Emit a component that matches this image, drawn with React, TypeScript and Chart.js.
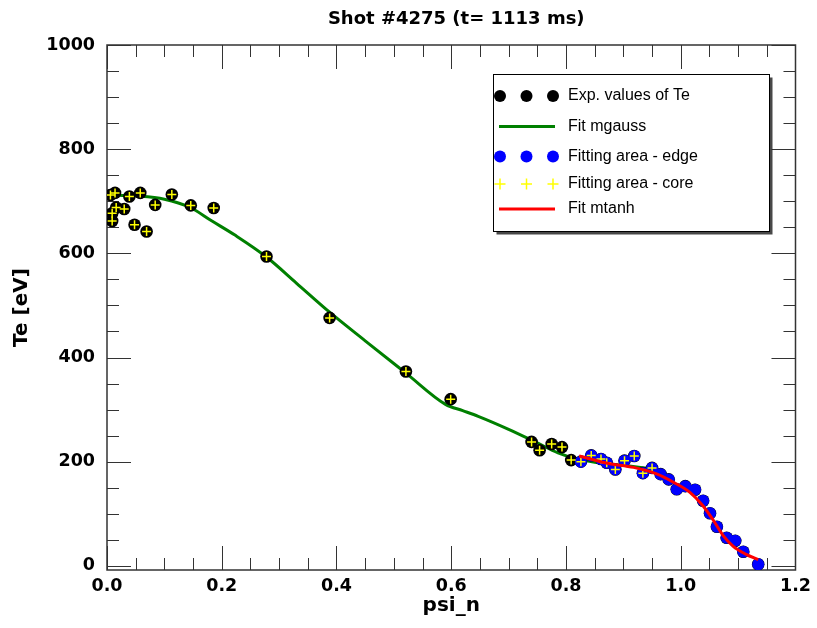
import React, { useEffect, useRef } from 'react';
import { Chart, registerables } from 'chart.js';

Chart.register(...registerables);

// ---- data ----
const titleText = 'Shot #4275 (t= 1113 ms)';
const xTitle = 'psi_n';
const yTitle = 'Te [eV]';
const legendLabels = ['Exp. values of Te', 'Fit mgauss', 'Fitting area - edge', 'Fitting area - core', 'Fit mtanh'];

const expPsi = [0.006, 0.009, 0.009, 0.014, 0.016, 0.030, 0.039, 0.048, 0.058, 0.069, 0.084, 0.113, 0.146, 0.186,
  0.278, 0.388, 0.521, 0.599, 0.740, 0.754, 0.775, 0.793, 0.809,
  0.826, 0.844, 0.861, 0.871, 0.886, 0.902, 0.919, 0.934, 0.950,
  0.965, 0.979, 0.993, 1.008, 1.025, 1.039, 1.051, 1.063, 1.080, 1.095, 1.109, 1.135];
const expTe = [712, 677, 662, 716, 688, 685, 709, 655, 716, 642, 693, 713, 692, 687,
  594, 476, 373, 320, 238, 222, 234, 228, 203,
  200, 212, 205, 198, 185, 202, 211, 178, 188,
  176, 166, 147, 153, 146, 125, 101, 75, 54, 48, 27, 3];

const edgeFrom = 0.82;   // fitting area - edge: psi >= edgeFrom
const coreTo = 0.955;    // fitting area - core: psi <= coreTo

const gaussPsi = [0, 0.05, 0.1, 0.145, 0.183, 0.223, 0.278, 0.33, 0.388, 0.45, 0.521, 0.59, 0.62, 0.647, 0.7, 0.75, 0.786, 0.82, 0.85, 0.9, 0.945];
const gaussTe = [712, 710, 704, 688, 662, 635, 593, 543, 487, 432, 370, 310, 298, 287, 262, 236, 217, 205, 199, 193, 187];

const tanhPsi = [0.823, 0.872, 0.918, 0.959, 0.988, 1.016, 1.039, 1.057, 1.074, 1.091, 1.114, 1.135];
const tanhTe = [211, 197, 189, 176, 160, 141, 115, 87, 58, 38, 22, 12];

const xTicks = [0, 0.2, 0.4, 0.6, 0.8, 1.0, 1.2];
const yTicks = [0, 200, 400, 600, 800, 1000];
const xMinorStep = 0.05;
const yMinorStep = 50;

// ---- helpers ----
const pts = (xs: number[], ys: number[]) => xs.map((x, i) => ({ x, y: ys[i] }));
const expPts = pts(expPsi, expTe);
const edgePts = expPts.filter(p => p.x >= edgeFrom);
const corePts = expPts.filter(p => p.x <= coreTo);

const GREEN = '#008000';
const RED = '#ff0000';
const BLUE = '#0000ff';
const YELLOW = '#ffff00';
const AXIS = '#333333';

const framePlugin = {
  id: 'idlFrame',
  beforeDatasetsDraw(chart: any) {
    const { ctx, chartArea: a, scales } = chart;
    const xs = scales.x, ys = scales.y;
    ctx.save();
    ctx.strokeStyle = AXIS;
    ctx.lineWidth = 1;
    const line = (x1: number, y1: number, x2: number, y2: number) => {
      ctx.beginPath(); ctx.moveTo(x1, y1); ctx.lineTo(x2, y2); ctx.stroke();
    };
    const xMax = xTicks[xTicks.length - 1];
    const nX = Math.round(xMax / xMinorStep);
    for (let i = 0; i <= nX; i++) {
      const v = i * xMinorStep;
      const px = Math.round(xs.getPixelForValue(v)) + 0.5;
      const major = xTicks.some(t => Math.abs(t - v) < 1e-6);
      const len = major ? 24 : 12;
      line(px, a.bottom, px, a.bottom - len);
      line(px, a.top, px, a.top + len);
    }
    const yMax = yTicks[yTicks.length - 1];
    for (let v = 0; v <= yMax; v += yMinorStep) {
      const py = Math.round(ys.getPixelForValue(v)) + 0.5;
      const major = yTicks.includes(v);
      const len = major ? 24 : 12;
      line(a.left, py, a.left + len, py);
      line(a.right, py, a.right - len, py);
    }
    ctx.lineWidth = 1.5;
    ctx.strokeRect(a.left, a.top, a.right - a.left, a.bottom - a.top);
    ctx.restore();
  },
  afterDraw(chart: any) {
    const { ctx, chartArea: a } = chart;
    ctx.save();
    // title
    ctx.fillStyle = '#000';
    ctx.font = 'bold 18px "DejaVu Sans"';
    ctx.textAlign = 'center';
    ctx.textBaseline = 'middle';
    ctx.fillText(titleText, (a.left + a.right) / 2 + 5, 19);

    // legend
    const bx = 493.5, by = 74.5, bw = 276, bh = 157;
    ctx.fillStyle = 'rgba(40,40,40,0.85)';
    ctx.fillRect(bx + 3, by + 3, bw, bh);
    ctx.fillStyle = '#fff';
    ctx.fillRect(bx, by, bw, bh);
    ctx.strokeStyle = '#000';
    ctx.lineWidth = 1;
    ctx.strokeRect(bx, by, bw, bh);

    const rows = [96, 126.5, 156.5, 184, 209];
    const sx = [500, 526.5, 553];
    const circle = (x: number, y: number, r: number, c: string) => {
      ctx.beginPath(); ctx.arc(x, y, r, 0, Math.PI * 2); ctx.fillStyle = c; ctx.fill();
    };
    sx.forEach(x => circle(x, rows[0], 6, '#000'));
    sx.forEach(x => circle(x, rows[2], 6, BLUE));
    ctx.strokeStyle = YELLOW; ctx.lineWidth = 1.5;
    sx.forEach(x => {
      ctx.beginPath();
      ctx.moveTo(x - 5.5, rows[3]); ctx.lineTo(x + 5.5, rows[3]);
      ctx.moveTo(x, rows[3] - 5.5); ctx.lineTo(x, rows[3] + 5.5);
      ctx.stroke();
    });
    ctx.lineWidth = 3;
    ctx.strokeStyle = GREEN;
    ctx.beginPath(); ctx.moveTo(499, rows[1]); ctx.lineTo(555, rows[1]); ctx.stroke();
    ctx.strokeStyle = RED;
    ctx.beginPath(); ctx.moveTo(499, rows[4]); ctx.lineTo(555, rows[4]); ctx.stroke();

    ctx.fillStyle = '#000';
    ctx.font = '16px "Liberation Sans"';
    ctx.textAlign = 'left';
    ctx.textBaseline = 'middle';
    legendLabels.forEach((t, i) => ctx.fillText(t, 568, rows[i]));
    ctx.restore();
  },
};

const tickFont = { family: '"DejaVu Sans"', weight: 'bold' as const, size: 17.5 };
const titleFont = { family: '"DejaVu Sans"', weight: 'bold' as const, size: 20, lineHeight: 1.2 };

export default function App() {
  const ref = useRef<HTMLCanvasElement>(null);
  useEffect(() => {
    document.body.style.margin = '0';
    const chart = new Chart(ref.current as HTMLCanvasElement, {
      type: 'scatter',
      data: {
        datasets: [
          {
            label: legendLabels[4], data: pts(tanhPsi, tanhTe), showLine: true,
            borderColor: RED, borderWidth: 3, pointRadius: 0, cubicInterpolationMode: 'monotone', order: 0,
          } as any,
          {
            label: legendLabels[3], data: corePts, pointStyle: 'cross', pointRadius: 4.5,
            borderColor: YELLOW, backgroundColor: YELLOW, borderWidth: 1.5, order: 1,
          },
          {
            label: legendLabels[2], data: edgePts, pointRadius: 6,
            backgroundColor: BLUE, borderWidth: 0, order: 2,
          },
          {
            label: legendLabels[0], data: expPts, pointRadius: 6.3,
            backgroundColor: '#000', borderWidth: 0, order: 3,
          },
          {
            label: legendLabels[1], data: pts(gaussPsi, gaussTe), showLine: true,
            borderColor: GREEN, borderWidth: 3, pointRadius: 0, cubicInterpolationMode: 'monotone', order: 4,
          } as any,
        ],
      },
      options: {
        animation: false,
        responsive: false,
        devicePixelRatio: 1,
        layout: { padding: { top: 45, right: 19, left: 0, bottom: 0 } },
        plugins: { legend: { display: false }, tooltip: { enabled: false }, title: { display: false } },
        scales: {
          x: {
            type: 'linear', min: 0, max: 1.2,
            afterBuildTicks: (s: any) => { s.ticks = xTicks.map(v => ({ value: v })); },
            afterFit: (s: any) => { s.height = 58; },
            ticks: {
              font: tickFont, color: '#000', padding: 6, maxRotation: 0, autoSkip: false,
              callback: (v: any) => Number(v).toFixed(1),
            },
            grid: { display: false, drawTicks: false },
            border: { display: false },
            title: { display: true, text: xTitle, color: '#000', font: titleFont, padding: { top: 0, bottom: 10 } },
          },
          y: {
            type: 'linear', min: -8, max: 1000,
            afterBuildTicks: (s: any) => { s.ticks = yTicks.map(v => ({ value: v })); },
            afterFit: (s: any) => { s.width = 107; },
            ticks: { font: tickFont, color: '#000', padding: 12, autoSkip: false, callback: (v: any) => String(v) },
            grid: { display: false, drawTicks: false },
            border: { display: false },
            title: { display: true, text: yTitle, color: '#000', font: titleFont, padding: { top: 10, bottom: 0 } },
          },
        },
      },
      plugins: [framePlugin],
    } as any);
    return () => chart.destroy();
  }, []);
  return (
    <div style={{ width: 817, height: 628, background: '#fff' }}>
      <canvas ref={ref} width={817} height={628} style={{ display: 'block' }} />
    </div>
  );
}
